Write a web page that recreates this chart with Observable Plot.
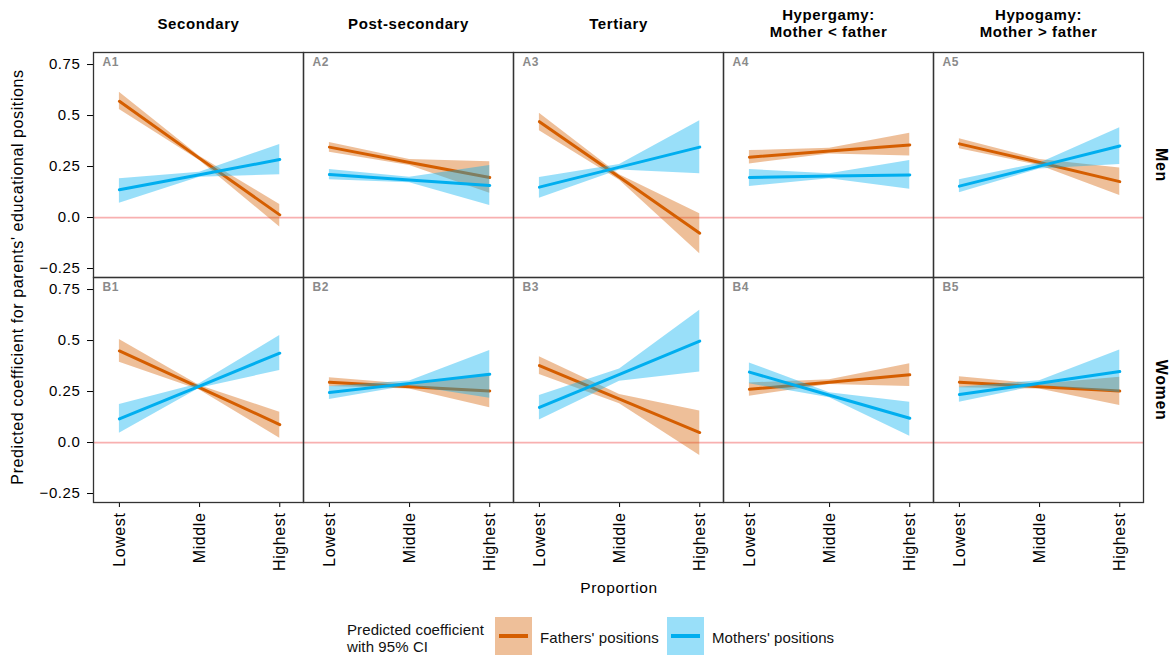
<!DOCTYPE html>
<html>
<head>
<meta charset="utf-8">
<script src="https://cdn.jsdelivr.net/npm/d3@7"></script>
<script src="https://cdn.jsdelivr.net/npm/@observablehq/plot@0.6"></script>
<style>
  html, body { margin: 0; padding: 0; background: white; }
  #wrap { position: relative; width: 1174px; height: 655px; font-family: "Liberation Sans", Arial, sans-serif; }
  #chart svg { display: block; }
  #chart svg text { letter-spacing: 0.6px; }
  .lg { position: absolute; font-size: 15px; color: #111; line-height: 17px; letter-spacing: 0.1px; }
  .key { position: absolute; width: 37px; height: 38px; }
  .key div { position: absolute; left: 4px; right: 4px; top: 17px; height: 4px; }
</style>
</head>
<body>
<div id="wrap">
  <div id="chart"></div>
  <div class="lg" style="left:347px; top:621px;">Predicted coefficient<br>with 95% CI</div>
  <div class="key" id="keyF" style="left:495px; top:617px;"><div></div></div>
  <div class="lg" id="labF" style="left:540px; top:629px;"></div>
  <div class="key" id="keyM" style="left:667px; top:617px;"><div></div></div>
  <div class="lg" id="labM" style="left:712px; top:629px;"></div>
</div>
<script>
const panels = ["Secondary", "Post-secondary", "Tertiary", "Hypergamy", "Hypogamy"];
const panelTitles = ["Secondary", "Post-secondary", "Tertiary", "Hypergamy:\nMother < father", "Hypogamy:\nMother > father"];
const genders = ["Men", "Women"];
const tagLetters = ["A", "B"];
const levels = ["Lowest", "Middle", "Highest"];
const series = ["Fathers' positions", "Mothers' positions"];
const seriesColors = ["#D55E00", "#00AEEF"];

// Men (row A): [Lowest, Middle, Highest] per panel
const menFathersFit = [[0.57, 0.29, 0.013], [0.345, 0.27, 0.196], [0.47, 0.197, -0.077], [0.296, 0.326, 0.356], [0.361, 0.27, 0.176]];
const menFathersLo  = [[0.53, 0.28, -0.047], [0.32, 0.255, 0.119], [0.426, 0.183, -0.178], [0.263, 0.312, 0.302], [0.337, 0.255, 0.108]];
const menFathersHi  = [[0.614, 0.30, 0.064], [0.368, 0.285, 0.274], [0.511, 0.21, 0.018], [0.328, 0.34, 0.413], [0.386, 0.285, 0.243]];
const menMothersFit = [[0.136, 0.21, 0.284], [0.211, 0.184, 0.157], [0.149, 0.247, 0.345], [0.196, 0.203, 0.209], [0.154, 0.252, 0.351]];
const menMothersLo  = [[0.07, 0.198, 0.21], [0.185, 0.17, 0.059], [0.095, 0.233, 0.214], [0.152, 0.19, 0.139], [0.121, 0.238, 0.26]];
const menMothersHi  = [[0.19, 0.222, 0.358], [0.235, 0.198, 0.255], [0.196, 0.26, 0.475], [0.235, 0.215, 0.279], [0.185, 0.266, 0.44]];

// Women (row B)
const womenFathersFit = [[0.449, 0.269, 0.088], [0.295, 0.274, 0.253], [0.377, 0.213, 0.049], [0.261, 0.296, 0.332], [0.296, 0.274, 0.252]];
const womenFathersLo  = [[0.394, 0.258, 0.021], [0.275, 0.262, 0.17], [0.333, 0.19, -0.064], [0.227, 0.284, 0.275], [0.268, 0.262, 0.181]];
const womenFathersHi  = [[0.505, 0.28, 0.149], [0.317, 0.286, 0.337], [0.42, 0.235, 0.154], [0.292, 0.308, 0.386], [0.323, 0.286, 0.32]];
const womenMothersFit = [[0.116, 0.277, 0.438], [0.245, 0.29, 0.335], [0.172, 0.334, 0.497], [0.345, 0.232, 0.119], [0.235, 0.291, 0.348]];
const womenMothersLo  = [[0.046, 0.266, 0.353], [0.211, 0.278, 0.217], [0.111, 0.30, 0.346], [0.288, 0.22, 0.031], [0.198, 0.279, 0.245]];
const womenMothersHi  = [[0.186, 0.288, 0.525], [0.275, 0.302, 0.451], [0.23, 0.36, 0.649], [0.39, 0.244, 0.198], [0.271, 0.303, 0.454]];

const source = {
  "Men": [[menFathersFit, menFathersLo, menFathersHi], [menMothersFit, menMothersLo, menMothersHi]],
  "Women": [[womenFathersFit, womenFathersLo, womenFathersHi], [womenMothersFit, womenMothersLo, womenMothersHi]]
};

const rows = [];
genders.forEach(g => {
  panels.forEach((p, pi) => {
    series.forEach((s, si) => {
      const [fit, lo, hi] = source[g][si];
      levels.forEach((lv, li) => {
        rows.push({gender: g, panel: p, series: s, x: li, fit: fit[pi][li], lo: lo[pi][li], hi: hi[pi][li]});
      });
    });
  });
});
const fathers = rows.filter(d => d.series === series[0]);
const mothers = rows.filter(d => d.series === series[1]);

const titles = panels.map((p, i) => ({panel: p, gender: "Men", text: panelTitles[i]}));
const sides = genders.map(g => ({panel: panels[panels.length - 1], gender: g, text: g}));
const tags = [];
genders.forEach((g, gi) => panels.forEach((p, pi) => tags.push({panel: p, gender: g, text: tagLetters[gi] + (pi + 1)})));

const fmt = d => d === 0 ? "0.0" : String(d).replace("-", "\u2212");

const chart = Plot.plot({
  width: 1174,
  height: 610,
  marginLeft: 91,
  marginRight: 29,
  marginTop: 52,
  marginBottom: 108,
  style: {fontFamily: "'Liberation Sans', Arial, sans-serif", fontSize: "15px", color: "black", background: "white"},
  fx: {domain: panels, padding: 0, axis: null},
  fy: {domain: genders, padding: 0, axis: null},
  x: {domain: [-0.323, 2.296], ticks: [0, 1, 2], tickFormat: i => levels[i], tickRotate: -90, tickSize: 5, tickPadding: 5, label: null},
  y: {domain: [-0.294, 0.809], ticks: [-0.25, 0, 0.25, 0.5, 0.75], tickFormat: fmt, tickSize: 6, tickPadding: 7, label: null},
  marks: [
    Plot.ruleY([0], {stroke: "#f8b0b0", strokeWidth: 1.8}),
    Plot.areaY(fathers, {fx: "panel", fy: "gender", x: "x", y1: "lo", y2: "hi", fill: seriesColors[0], fillOpacity: 0.4}),
    Plot.lineY(fathers, {fx: "panel", fy: "gender", x: "x", y: "fit", stroke: seriesColors[0], strokeWidth: 3}),
    Plot.areaY(mothers, {fx: "panel", fy: "gender", x: "x", y1: "lo", y2: "hi", fill: seriesColors[1], fillOpacity: 0.4}),
    Plot.lineY(mothers, {fx: "panel", fy: "gender", x: "x", y: "fit", stroke: seriesColors[1], strokeWidth: 3}),
    Plot.frame({stroke: "#333", strokeWidth: 1.3}),
    Plot.text(tags, {fx: "panel", fy: "gender", text: "text", frameAnchor: "top-left", dx: 9, dy: 5, lineAnchor: "top", fill: "#8a8a8a", fontWeight: "bold", fontSize: 12}),
    Plot.text(titles, {fx: "panel", fy: "gender", text: "text", frameAnchor: "top", dy: -29, lineAnchor: "middle", textAnchor: "middle", fontWeight: "bold", fontSize: 15, lineHeight: 1.12}),
    Plot.text(sides, {fx: "panel", fy: "gender", text: "text", frameAnchor: "right", dx: 18, rotate: 90, textAnchor: "middle", lineAnchor: "middle", fontWeight: "bold", fontSize: 16})
  ]
});
document.getElementById("chart").appendChild(chart);

const svg = d3.select(chart);
svg.selectAll('g[aria-label="x-axis tick label"]').attr("font-size", 16);
svg.append("text")
  .attr("transform", "translate(19,277) rotate(-90)")
  .attr("text-anchor", "middle")
  .attr("dominant-baseline", "middle")
  .attr("font-size", 16)
  .attr("fill", "black")
  .text("Predicted coefficient for parents' educational positions");
svg.append("text")
  .attr("x", 619).attr("y", 589)
  .attr("text-anchor", "middle")
  .attr("dominant-baseline", "middle")
  .attr("font-size", 15.5)
  .attr("fill", "black")
  .text("Proportion");

// legend
const keys = [["keyF", "labF"], ["keyM", "labM"]];
keys.forEach(([k, l], i) => {
  const box = document.getElementById(k);
  const c = d3.color(seriesColors[i]); c.opacity = 0.4;
  box.style.background = c.formatRgb();
  box.firstChild.style.background = seriesColors[i];
  document.getElementById(l).textContent = series[i];
});
</script>
</body>
</html>
